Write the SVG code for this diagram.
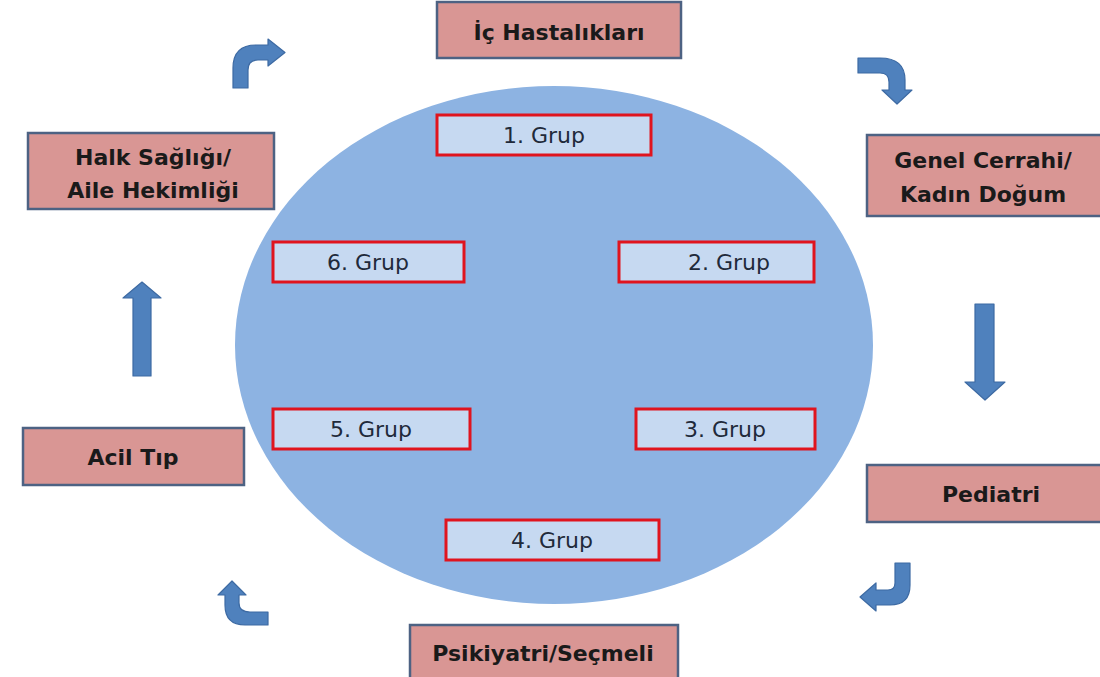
<svg xmlns="http://www.w3.org/2000/svg" width="1100" height="677" viewBox="0 0 1100 677">
<style>
.dept rect{fill:#d99694;stroke:#4d6283;stroke-width:2.5}
.dept text{font-family:"DejaVu Sans",sans-serif;font-weight:bold;font-size:22px;fill:#1a1a1a;text-anchor:middle}
.grp rect{fill:#c6d9f1;stroke:#e0141e;stroke-width:3}
.grp text{font-family:"DejaVu Sans",sans-serif;font-size:22px;fill:#1f2a3a;text-anchor:middle}
.arr{fill:#4f81bd;stroke:#3d6aa3;stroke-width:1.2;stroke-linejoin:round}
</style>
<rect width="1100" height="677" fill="#ffffff"/>
<ellipse id="circle" cx="554" cy="345" rx="319" ry="259" fill="#8db3e2"/>

<g id="ic" class="dept"><rect x="437" y="2" width="244" height="56"/><text x="559" y="40">İç Hastalıkları</text></g>
<g id="genel" class="dept"><rect x="867" y="135" width="240" height="81"/><text x="983" y="168">Genel Cerrahi/</text><text x="983" y="202">Kadın Doğum</text></g>
<g id="pediatri" class="dept"><rect x="867" y="465" width="240" height="57"/><text x="991" y="502">Pediatri</text></g>
<g id="psikiyatri" class="dept"><rect x="410" y="625" width="268" height="60"/><text x="543" y="661">Psikiyatri/Seçmeli</text></g>
<g id="acil" class="dept"><rect x="23" y="428" width="221" height="57"/><text x="133" y="465">Acil Tıp</text></g>
<g id="halk" class="dept"><rect x="28" y="133" width="246" height="76"/><text x="153" y="165">Halk Sağlığı/</text><text x="153" y="198">Aile Hekimliği</text></g>

<g id="g1" class="grp"><rect x="437" y="115" width="214" height="40"/><text x="544" y="143">1. Grup</text></g>
<g id="g2" class="grp"><rect x="619" y="242" width="195" height="40"/><text x="729" y="270">2. Grup</text></g>
<g id="g3" class="grp"><rect x="636" y="409" width="179" height="40"/><text x="725" y="437">3. Grup</text></g>
<g id="g4" class="grp"><rect x="446" y="520" width="213" height="40"/><text x="552" y="548">4. Grup</text></g>
<g id="g5" class="grp"><rect x="273" y="409" width="197" height="40"/><text x="371" y="437">5. Grup</text></g>
<g id="g6" class="grp"><rect x="273" y="242" width="191" height="40"/><text x="368" y="270">6. Grup</text></g>

<g id="connectors">
<path class="arr" d="M233,88 L233,68 Q233,45 256,45 L268,45 L268,39 L285,52.5 L268,66 L268,60 L258,60 Q248,60 248,70 L248,88 Z"/>
<path class="arr" d="M858,58 L880,58 Q905,58 905,80 L905,90 L912,90 L897,104 L882,90 L889,90 L889,82 Q889,73 880,73 L858,73 Z"/>
<path class="arr" d="M975,304 L994,304 L994,382 L1005,382 L985,400 L965,382 L975,382 Z"/>
<path class="arr" d="M910,563 L910,585 Q910,605 890,605 L876,605 L876,611 L860,597 L876,583 L876,590 L888,590 Q895,590 895,583 L895,563 Z"/>
<path class="arr" d="M268,612 L250,612 Q239,612 239,603 L239,595 L246,595 L232,581 L218,595 L225,595 L225,605 Q225,625 245,625 L268,625 Z"/>
<path class="arr" d="M133,376 L151,376 L151,298 L161,298 L142,282 L123,298 L133,298 Z"/>
</g>
</svg>
